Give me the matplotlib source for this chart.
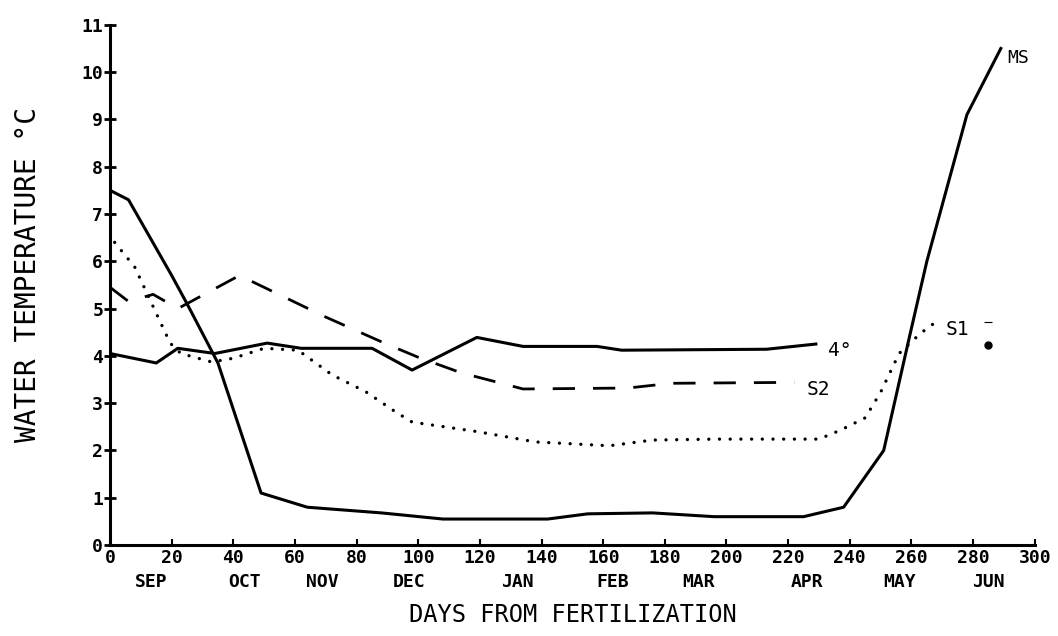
import matplotlib
matplotlib.use("Agg")
import matplotlib.pyplot as plt


# Data (days from fertilization, water temperature C)
#----------------------------------------------------------------------------------------------------
ms_days = [0, 6, 20, 25, 35, 49, 64, 88, 108, 142, 155, 176, 196, 225, 238, 251, 259, 265, 278, 289]
ms_temp = [7.5, 7.3, 5.7, 5.1, 3.85, 1.1, 0.8, 0.68, 0.55, 0.55, 0.66, 0.68, 0.6, 0.6, 0.8, 2.0, 4.3, 6.0, 9.1, 10.5]

c4_days = [0, 15, 22, 34, 51, 62, 85, 98, 119, 134, 158, 166, 213, 229]
c4_temp = [4.05, 3.85, 4.16, 4.05, 4.27, 4.16, 4.16, 3.7, 4.39, 4.2, 4.2, 4.12, 4.14, 4.25]

s2_days = [0, 6, 14, 22, 42, 70, 89, 100, 114, 127, 134, 168, 182, 222]
s2_temp = [5.45, 5.15, 5.3, 5.0, 5.7, 4.82, 4.27, 3.97, 3.64, 3.42, 3.3, 3.32, 3.42, 3.44]

s1_days = [1.5, 8, 15, 19.5, 23, 33, 40, 50, 61, 72, 83, 93, 98, 119, 138, 162, 176, 197, 230, 237, 245, 250, 256, 263, 268]
s1_temp = [6.4, 5.88, 4.9, 4.27, 4.05, 3.87, 3.95, 4.16, 4.12, 3.6, 3.24, 2.8, 2.6, 2.4, 2.18, 2.1, 2.22, 2.24, 2.24, 2.43, 2.69, 3.23, 4.05, 4.48, 4.72]

s1_point_day = [285]
s1_point_temp = [4.23]

x_ticks = list(range(0, 301, 20))
y_ticks = list(range(0, 12))

month_names = ["SEP", "OCT", "NOV", "DEC", "JAN", "FEB", "MAR", "APR", "MAY", "JUN"]
month_days = [13.5, 43.5, 69, 97, 132, 163, 191, 226, 256, 285]


#----------------------------------------------------------------------------------------------------
font = "DejaVu Sans Mono"

fig = plt.figure(figsize=(10.58, 6.36), dpi=100)
ax = fig.add_axes([0.104, 0.143, 0.874, 0.818])

ax.plot(ms_days, ms_temp, color="black", lw=2.2, solid_joinstyle="round")
ax.plot(c4_days, c4_temp, color="black", lw=2.2, solid_joinstyle="round")
ax.plot(s2_days, s2_temp, color="black", lw=2.0, dashes=(8.0, 6.5))
ax.plot(s1_days, s1_temp, color="black", lw=2.4, dashes=(0.01, 3.2), dash_capstyle="round")
ax.plot(s1_point_day, s1_point_temp, "o", color="black", ms=5)
ax.plot([285], [4.72], "_", color="black", ms=6, mew=0.8)

# curve labels
ax.text(291, 10.3, "MS", family=font, fontsize=13, va="center", ha="left")
ax.text(233, 4.12, "4°", family=font, fontsize=14, va="center", ha="left")
ax.text(226, 3.28, "S2", family=font, fontsize=14, va="center", ha="left")
ax.text(271, 4.55, "S1", family=font, fontsize=14, va="center", ha="left")


# Axes
#----------------------------------------------------------------------------------------------------
ax.set_xlim(0, 300)
ax.set_ylim(0, 11)

for s in ["top", "right"]:
    ax.spines[s].set_visible(False)
for s in ["left", "bottom"]:
    ax.spines[s].set_linewidth(2.2)

ax.set_xticks(x_ticks)
ax.set_xticklabels([str(v) for v in x_ticks], family=font, fontweight="bold", fontsize=13)
ax.set_xticks(month_days, minor=True)
ax.set_xticklabels(month_names, minor=True, family=font, fontweight="bold", fontsize=13)
ax.tick_params(axis="x", which="major", direction="in", length=4, width=1.5, pad=3)
ax.tick_params(axis="x", which="minor", length=0, pad=20)

ax.set_yticks(y_ticks)
ax.set_yticklabels([str(v) for v in y_ticks], family=font, fontweight="bold", fontsize=13)
ax.tick_params(axis="y", direction="inout", length=8, width=2, pad=1)

ax.set_xlabel("DAYS FROM FERTILIZATION", family=font, fontsize=17, labelpad=9)
ax.set_ylabel("WATER TEMPERATURE °C", family=font, fontsize=20, labelpad=22)
ax.yaxis.set_label_coords(-0.074, 0.52)


fig.savefig("out.png", dpi=100)
